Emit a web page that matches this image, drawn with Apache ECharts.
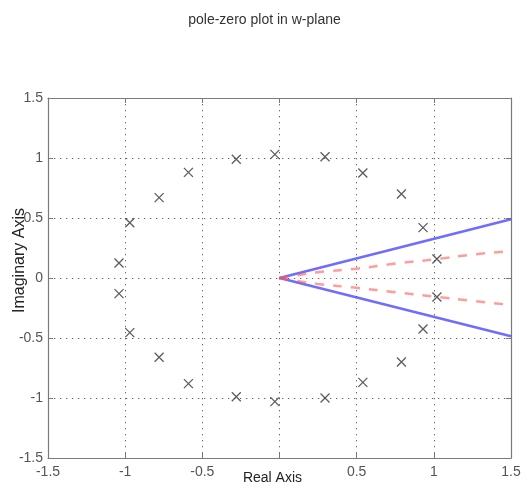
<!DOCTYPE html>
<html><head><meta charset="utf-8">
<script src="https://cdn.jsdelivr.net/npm/echarts@6/dist/echarts.min.js"></script>
<style>html,body{margin:0;padding:0;background:#fff}#c{width:529px;height:494px}</style>
</head><body><div id="c"></div>
<script>
var titleText = 'pole-zero plot in w-plane';
var xTicks = [-1.5, -1, -0.5, 0, 0.5, 1, 1.5];
var yTicks = [-1.5, -1, -0.5, 0, 0.5, 1, 1.5];
var polesX = [-1.04, -1.04, -0.97, -0.97, -0.78, -0.78, -0.59, -0.59, -0.28, -0.28, -0.03, -0.03, 0.295, 0.295, 0.54, 0.54, 0.79, 0.79, 0.93, 0.93, 1.02, 1.02];
var polesY = [0.125, -0.13, 0.46, -0.455, 0.67, -0.66, 0.88, -0.88, 0.99, -0.99, 1.03, -1.03, 1.01, -1.0, 0.875, -0.87, 0.70, -0.70, 0.42, -0.425, 0.158, -0.158];
var blueX = [0, 1.5];
var blueUpper = [0, 0.49];
var blueLower = [0, -0.485];
var redX = [0, 0.1, 0.25, 0.5, 0.75, 1.0, 1.25, 1.5];
var redUpper = [0, 0.02, 0.048, 0.078, 0.12, 0.155, 0.195, 0.225];
var redLower = [0, -0.022, -0.05, -0.082, -0.118, -0.155, -0.19, -0.225];

function zip(a, b) { return a.map(function (v, i) { return [v, b[i]]; }); }

var chart = echarts.init(document.getElementById('c'));
var axisCol = '#7a7a7a';
var gridLine = { show: true, lineStyle: { color: '#666', width: 1, type: [1.3, 4.7] } };
var font = 'Liberation Sans, Arial, sans-serif';
var labelStyle = { color: '#555', fontSize: 14, fontFamily: font };
function boxAxis(extra) {
  return Object.assign({
    type: 'value', min: -1.5, max: 1.5, interval: 0.5,
    axisLine: { show: true, onZero: false, lineStyle: { color: axisCol, width: 1.2 } },
    axisTick: { show: true, inside: true, length: 5, lineStyle: { color: axisCol } }
  }, extra);
}
chart.setOption({
  animation: false,
  title: { text: titleText, left: 'center', top: 8, textStyle: { fontSize: 14, fontWeight: 'normal', color: '#333', fontFamily: font } },
  grid: { left: 48, top: 98, right: 18, bottom: 36, containLabel: false, outerBoundsMode: 'none' },
  xAxis: [boxAxis({
    position: 'bottom',
    name: 'Real Axis', nameLocation: 'middle', nameGap: 13, nameMoveOverlap: false,
    nameTextStyle: { color: '#222', fontSize: 14, fontFamily: font, padding: [0, 14, 0, 0] },
    axisLabel: Object.assign({ margin: 7, formatter: function (v) { return v === 0 ? '' : String(v); } }, labelStyle),
    splitLine: gridLine
  }), boxAxis({
    position: 'top', axisLabel: { show: false }, splitLine: { show: false }
  })],
  yAxis: [boxAxis({
    position: 'left',
    name: 'Imaginary Axis', nameLocation: 'middle', nameGap: 20, nameRotate: 90, nameMoveOverlap: false,
    nameTextStyle: { color: '#222', fontSize: 16, fontFamily: font, padding: [0, 0, 0, 35] },
    axisLabel: Object.assign({ margin: 5 }, labelStyle),
    splitLine: gridLine
  }), boxAxis({
    position: 'right', axisLabel: { show: false }, splitLine: { show: false }
  })],
  series: [
    { type: 'line', data: zip(blueX, blueUpper), symbol: 'none', lineStyle: { color: 'rgba(60,60,255,0.75)', width: 2.5 } },
    { type: 'line', data: zip(blueX, blueLower), symbol: 'none', lineStyle: { color: 'rgba(60,60,255,0.75)', width: 2.5 } },
    { type: 'line', data: zip(redX, redUpper), symbol: 'none', smooth: true, lineStyle: { color: 'rgba(255,90,90,0.6)', width: 2.5, type: [9, 9] } },
    { type: 'line', data: zip(redX, redLower), symbol: 'none', smooth: true, lineStyle: { color: 'rgba(255,90,90,0.6)', width: 2.5, type: [9, 9] } },
    { type: 'scatter', data: zip(polesX, polesY), symbol: 'path://M0,0L10,10M10,0L0,10', symbolSize: 9,
      itemStyle: { color: 'none', borderColor: '#333', borderWidth: 1.3 }, z: 5 }
  ]
});
</script></body></html>
